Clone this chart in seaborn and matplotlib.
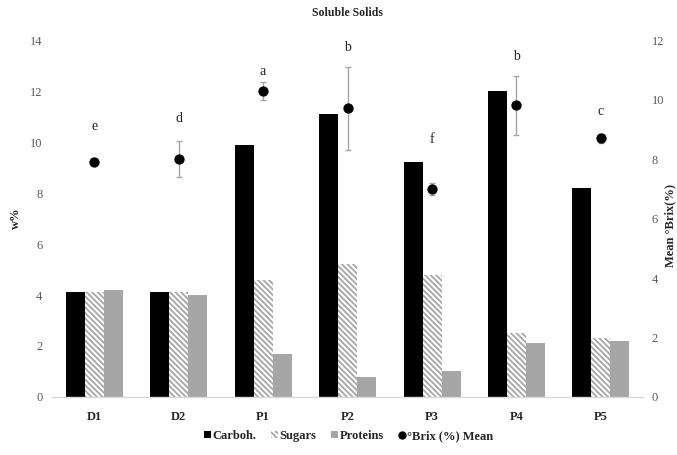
import numpy as np
import pandas as pd
import matplotlib
matplotlib.use("Agg")
import matplotlib.pyplot as plt
from matplotlib.patches import Patch
from matplotlib.lines import Line2D
import seaborn as sns

# Composition (w%) per sample
samples = ["D1", "D2", "P1", "P2", "P3", "P4", "P5"]
carboh = [4.1, 4.1, 9.9, 11.1, 9.2, 12.0, 8.2]
sugars = [4.1, 4.1, 4.6, 5.2, 4.8, 2.5, 2.3]
proteins = [4.2, 4.0, 1.7, 0.8, 1.0, 2.1, 2.2]

# Mean °Brix (%) with standard deviation and significance letters
brix_mean = [7.9, 8.0, 10.3, 9.7, 7.0, 9.8, 8.7]
brix_sd = [0.1, 0.6, 0.3, 1.4, 0.2, 1.0, 0.15]
letters = ["e", "d", "a", "b", "f", "b", "c"]
letter_y = [9.1, 9.35, 10.95, 11.75, 8.65, 11.45, 9.6]

components = ["Carboh.", "Sugars", "Proteins"]

df = pd.DataFrame({
    "Sample": samples * 3,
    "Component": sum([[c] * len(samples) for c in components], []),
    "w%": carboh + sugars + proteins,
})

sns.set_theme(style="white")
plt.rcParams["font.family"] = ["Liberation Serif", "DejaVu Serif"]
plt.rcParams["hatch.linewidth"] = 1.3

grey = "#a6a6a6"
tick_grey = "#595959"
sugar_hatch = "\\\\\\\\\\\\"

fig = plt.figure(figsize=(6.77, 4.55), dpi=100)
ax = fig.add_axes([0.0768, 0.1275, 0.8732, 0.7845])

sns.barplot(data=df, x="Sample", y="w%", hue="Component", hue_order=components,
            palette=["black", "white", grey], width=0.675, gap=0,
            linewidth=0, saturation=1, legend=False, ax=ax)

# Hatch the sugar bars
n = len(samples)
for i, patch in enumerate(ax.patches[:3 * n]):
    if n <= i < 2 * n:
        patch.set_hatch(sugar_hatch)
        patch.set_edgecolor(grey)
        patch.set_facecolor("white")
        patch.set_linewidth(0)

ax.set_ylim(0, 14)
ax.set_yticks(np.arange(0, 15, 2))
ax.set_xlim(-0.5, len(samples) - 0.5)
ax.set_xlabel("")
ax.set_ylabel("w%", fontsize=9, fontweight="bold")
ax.yaxis.set_label_coords(-0.051, 0.5)
ax.tick_params(axis="y", length=0, labelsize=9, colors=tick_grey, pad=7)
ax.tick_params(axis="x", length=0, labelsize=9, pad=10)
for lbl in ax.get_xticklabels():
    lbl.set_fontweight("bold")
for side in ["top", "left", "right"]:
    ax.spines[side].set_visible(False)
ax.spines["bottom"].set_color("#d9d9d9")
ax.spines["bottom"].set_linewidth(1.0)

# Brix on secondary axis
ax2 = ax.twinx()
xpos = np.arange(len(samples))
ax2.errorbar(xpos, brix_mean, yerr=brix_sd, fmt="none", ecolor=grey,
             elinewidth=1.0, capsize=2.5, capthick=1.0, zorder=2)
sns.scatterplot(x=xpos, y=brix_mean, color="black", s=55, edgecolor="black",
                linewidth=0, zorder=3, ax=ax2, legend=False)
for x, y, t in zip(xpos, letter_y, letters):
    ax2.text(x, y, t, ha="center", va="center", fontsize=10, color="#222222")

ax2.set_ylim(0, 12)
ax2.set_yticks(np.arange(0, 13, 2))
ax2.set_ylabel("Mean °Brix(%)", fontsize=9, fontweight="bold", rotation=90)
ax2.yaxis.set_label_coords(1.036, 0.48)
ax2.tick_params(axis="y", length=0, labelsize=9, colors=tick_grey, pad=6)
for side in ["top", "left", "right", "bottom"]:
    ax2.spines[side].set_visible(False)
ax2.grid(False)
ax.grid(False)

fig.suptitle("Soluble Solids", x=0.513, y=0.985, fontsize=8.5, fontweight="bold")

handles = [
    Patch(facecolor="black", edgecolor="none", label="Carboh."),
    Patch(facecolor="white", edgecolor=grey, hatch=sugar_hatch, linewidth=0, label="Sugars"),
    Patch(facecolor=grey, edgecolor="none", label="Proteins"),
    Line2D([], [], marker="o", color="black", linestyle="none", markersize=5,
           label="°Brix (%) Mean"),
]
fig.legend(handles=handles, loc="center", bbox_to_anchor=(0.515, 0.042), ncol=4,
           frameon=False, handlelength=0.5, handleheight=0.5, handletextpad=0.15,
           columnspacing=1.2, prop={"weight": "bold", "size": 9})

fig.savefig("out.png", dpi=100)
